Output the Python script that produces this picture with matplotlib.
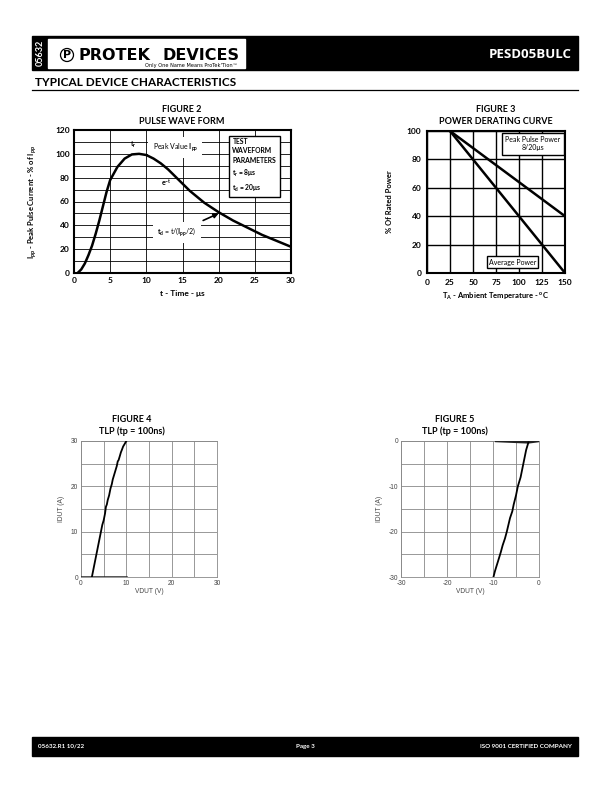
import numpy as np
import matplotlib
matplotlib.use("Agg")
import matplotlib.pyplot as plt
from matplotlib.patches import Rectangle, Circle

plt.rcParams['font.family'] = ['Lato', 'DejaVu Sans']
plt.rcParams['mathtext.fontset'] = 'custom'
plt.rcParams['mathtext.rm'] = 'Lato:bold'
plt.rcParams['mathtext.it'] = 'Lato:bold'
plt.rcParams['mathtext.bf'] = 'Lato:bold'
plt.rcParams['mathtext.default'] = 'rm'
plt.rcParams['axes.unicode_minus'] = False

MU = '\u03bc'

# figure 2 - pulse wave form
t_us = [0.5, 1, 1.5, 2, 2.5, 3, 3.5, 4, 4.5, 5, 6, 7, 8, 9, 10, 11, 12, 13, 14,
        15, 16, 17, 18, 19, 20, 22, 24, 26, 28, 30]
ipp_pct = [0, 3, 8, 15, 23, 33, 44, 56, 68, 78, 89, 96, 99.5, 100, 99, 96, 92, 87, 81,
           75, 69, 64, 59, 55, 51, 44, 38, 32, 27, 22]

# figure 3 - power derating
temp_c = [25, 150]
peak_pulse = [100, 40]
avg_power = [100, 0]

# figure 4 - TLP positive
v4 = [2.4, 2.7, 3.0, 3.3, 3.6, 3.9, 4.2, 4.5, 4.7, 5.0, 5.3, 5.5, 5.7, 5.9, 6.2, 6.5, 6.8,
      7.0, 7.3, 7.6, 7.9, 8.1, 8.3, 8.6, 8.8, 9.0, 9.3, 9.6, 10.0]
i4 = [0, 1.5, 3, 4.5, 6, 7.5, 9, 10.5, 11.5, 12.5, 14, 15.5, 16, 17, 18, 19.5, 20.5,
      21.5, 22.5, 23.5, 24.5, 25.5, 25.8, 26.8, 27.5, 28, 28.8, 29.3, 30]
v4_off = [0, 10]
i4_off = [0, 0]

# figure 5 - TLP negative
v5 = [-2.3, -2.8, -3.2, -3.6, -4.0, -4.6, -5.0, -5.5, -5.8, -6.3, -7.0, -7.4, -7.9,
      -8.3, -8.6, -8.9, -9.3, -9.6, -9.9]
i5 = [-0.3, -2, -4, -6, -8, -10, -12, -14, -15.5, -17, -20, -21.5, -23, -24.5, -25.5,
      -26.5, -27.8, -28.8, -30]
v5_off = [-9.3, -2.3, 0]
i5_off = [0, -0.3, 0]

W, H = 612, 792
fig = plt.figure(figsize=(W / 100, H / 100), dpi=100)


def box(x0, y0, x1, y1):
    return [x0 / W, 1 - y1 / H, (x1 - x0) / W, (y1 - y0) / H]


# page layer in pixel coords
pg = fig.add_axes([0, 0, 1, 1])
pg.set_xlim(0, W)
pg.set_ylim(H, 0)
pg.axis('off')
pg.add_patch(Rectangle((32, 36), 546, 34, color='black'))
pg.add_patch(Rectangle((48, 39), 197, 29, color='white'))
pg.text(40.5, 53, '05632', color='white', rotation=90, ha='center', va='center',
        fontsize=6.5, fontweight='bold')
pg.add_patch(Circle((67, 55), 6.5, fill=False, lw=0.9, color='black'))
pg.text(67, 55.5, 'P', ha='center', va='center', fontsize=8, fontweight='bold',
        family='DejaVu Sans')
pg.text(79, 55, 'PROTEK', ha='left', va='center', fontsize=11.5,
        fontweight='heavy', family='DejaVu Sans')
pg.text(239, 55, 'DEVICES', ha='right', va='center', fontsize=11.5,
        fontweight='heavy', family='DejaVu Sans')
pg.text(238, 65.5, 'Only One Name Means ProTek\'Tion\u2122', ha='right', va='center',
        fontsize=3.6, family='DejaVu Sans')
pg.text(572, 55, 'PESD05BULC', color='white', ha='right', va='center',
        fontsize=9.5, fontweight='bold', family='Open Sans')
pg.text(35, 82, 'TYPICAL DEVICE CHARACTERISTICS', ha='left', va='center',
        fontsize=8.5, fontweight='bold')
pg.plot([32, 578], [90, 90], color='black', lw=0.9)
pg.add_patch(Rectangle((32, 737), 546, 19, color='black'))
pg.text(38, 746.5, '05632.R1 10/22', color='white', ha='left', va='center',
        fontsize=4.5, fontweight='bold')
pg.text(305, 746.5, 'Page 3', color='white', ha='center', va='center',
        fontsize=4.5, fontweight='bold')
pg.text(572, 746.5, 'ISO 9001 CERTIFIED COMPANY', color='white', ha='right',
        va='center', fontsize=4.5, fontweight='bold')

# titles
for cx, y, a, b in [(182, 110, 'FIGURE 2', 'PULSE WAVE FORM'),
                    (496, 110, 'FIGURE 3', 'POWER DERATING CURVE'),
                    (132, 420, 'FIGURE 4', 'TLP (tp = 100ns)'),
                    (455, 420, 'FIGURE 5', 'TLP (tp = 100ns)')]:
    pg.text(cx, y, a, ha='center', va='center', fontsize=6.5, fontweight='bold')
    pg.text(cx, y + 11, b, ha='center', va='center', fontsize=6.5, fontweight='bold')

# ---- figure 2
ax2 = fig.add_axes(box(74, 130, 291, 273))
ax2.set_zorder(2)
ax2.plot(t_us, ipp_pct, color='black', lw=1.8, zorder=6)
ax2.set_xlim(0, 30)
ax2.set_ylim(0, 120)
ax2.set_xticks(range(0, 31, 5))
ax2.set_yticks(range(0, 121, 20))
ax2.set_yticks(range(0, 121, 10), minor=True)
ax2.grid(which='both', color='black', lw=0.6)
ax2.tick_params(which='both', length=0, labelsize=6, pad=3)
for lab in ax2.get_xticklabels() + ax2.get_yticklabels():
    lab.set_fontweight('bold')
for s in ax2.spines.values():
    s.set_linewidth(1.5)
ax2.set_xlabel('t - Time - ' + MU + 's', fontsize=6, fontweight='bold', labelpad=4)
ax2.set_ylabel(r'$I_{pp}$ - Peak Pulse Current - % of $I_{pp}$', fontsize=5.5,
               fontweight='bold', labelpad=12)
ax2.text(8.2, 103, r'$t_r$', fontsize=5, ha='center', va='bottom', zorder=5)
ax2.text(14, 105.5, r'Peak Value $I_{pp}$', fontsize=5, ha='center', va='center', zorder=5,
         bbox=dict(facecolor='white', edgecolor='none', pad=3))
ax2.text(12.8, 75, r'$e^{-t}$', fontsize=5, ha='center', va='center', zorder=5)
ax2.annotate(r'$t_d$ = t/($I_{pp}$/2)', xy=(20, 50), xytext=(14.2, 34), fontsize=5,
             ha='center', va='center', zorder=5,
             bbox=dict(facecolor='white', edgecolor='none', pad=3),
             arrowprops=dict(arrowstyle='-|>', color='black', lw=1.2,
                             shrinkA=2, shrinkB=0, mutation_scale=7))
ax2.text(21.9, 113.5, 'TEST\nWAVEFORM\nPARAMETERS\n' + r'$t_r$ = 8' + MU + 's\n'
         + r'$t_d$ = 20' + MU + 's',
         fontsize=4.9, fontweight='bold', ha='left', va='top', linespacing=1.45, zorder=7,
         bbox=dict(facecolor='white', edgecolor='black', lw=1.0, pad=2.5))

# ---- figure 3
ax3 = fig.add_axes(box(427, 131, 565, 273))
ax3.plot(temp_c, peak_pulse, color='black', lw=1.8, zorder=4)
ax3.plot(temp_c, avg_power, color='black', lw=1.8, zorder=4)
ax3.set_xlim(0, 150)
ax3.set_ylim(0, 100)
ax3.set_xticks(range(0, 151, 25))
ax3.set_yticks(range(0, 101, 20))
ax3.grid(color='black', lw=1.0)
ax3.tick_params(length=0, labelsize=6, pad=4)
for lab in ax3.get_xticklabels() + ax3.get_yticklabels():
    lab.set_fontweight('bold')
for s in ax3.spines.values():
    s.set_linewidth(1.5)
ax3.set_xlabel(r'$T_A$ - Ambient Temperature - $^o$C', fontsize=5.5, fontweight='bold',
               labelpad=4)
ax3.set_ylabel('% Of Rated Power', fontsize=5.5, fontweight='bold', labelpad=10)
ax3.text(115, 91, 'Peak Pulse Power\n8/20' + MU + 's', fontsize=5, ha='center',
         va='center', zorder=5,
         bbox=dict(facecolor='white', edgecolor='black', lw=1.0, pad=2.5))
ax3.text(93, 7.7, 'Average Power', fontsize=5, ha='center', va='center', zorder=5,
         bbox=dict(facecolor='white', edgecolor='black', lw=1.0, pad=1.5))

# ---- figures 4 and 5
for rect, vx, iy, voff, ioff, lim in [
        (box(81, 441, 217, 577), v4, i4, v4_off, i4_off, (0, 30)),
        (box(401, 441, 539, 577), v5, i5, v5_off, i5_off, (-30, 0))]:
    ax = fig.add_axes(rect)
    ax.plot(voff, ioff, color='#222222', lw=1.8, zorder=4)
    ax.plot(vx, iy, color='black', lw=1.3, zorder=4)
    ax.set_xlim(*lim)
    ax.set_ylim(*lim)
    ax.set_xticks(np.arange(lim[0], lim[1] + 1, 10))
    ax.set_yticks(np.arange(lim[0], lim[1] + 1, 10))
    ax.set_xticks(np.arange(lim[0], lim[1] + 1, 5), minor=True)
    ax.set_yticks(np.arange(lim[0], lim[1] + 1, 5), minor=True)
    ax.grid(which='both', color='#888888', lw=0.6)
    ax.tick_params(which='both', length=0, labelsize=4.8, labelcolor='#444444', pad=2)
    for lab in ax.get_xticklabels() + ax.get_yticklabels():
        lab.set_family('Liberation Sans')
    for s in ax.spines.values():
        s.set_color('#888888')
        s.set_linewidth(0.6)
    ax.set_xlabel('VDUT (V)', fontsize=4.8, color='#444444', family='Liberation Sans',
                  labelpad=1)
    ax.set_ylabel('IDUT (A)', fontsize=4.8, color='#444444', family='Liberation Sans',
                  labelpad=4)

fig.savefig('out.png', dpi=100)
